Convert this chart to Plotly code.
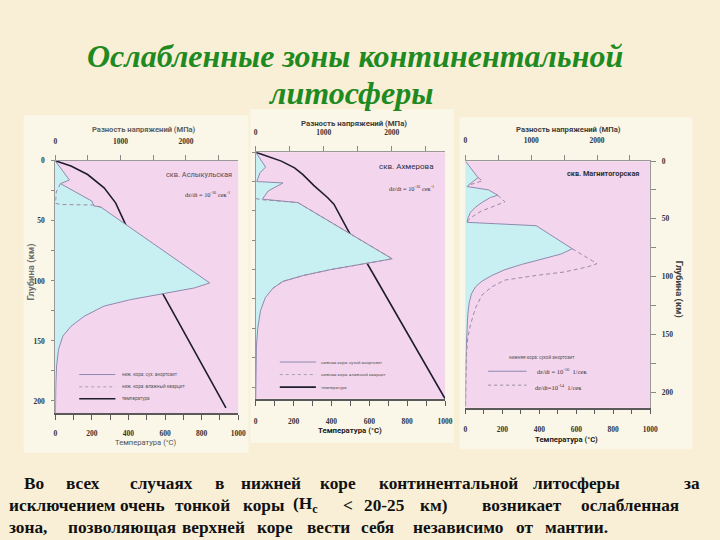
import plotly.graph_objects as go

W, H = 720, 540
def px(x): return x / W
def py(y): return 1 - y / H

# ---------------- DATA ----------------
# Panel 1: скв. Аслыкульская
p1_dry_depth  = [0, 16, 19, 33.5, 37.5, 38.5, 101.7, 105.8, 110.6, 115.6, 121, 129.4, 137.8, 146, 157, 171, 185, 204, 210]
p1_dry_stress = [0, 217, 80, 560, 590, 697, 2364, 2136, 1657, 1152, 747, 444, 242, 116, 50, 20, 10, 5, 3]
p1_wet_depth  = [19, 26, 35.5, 36.4, 36.8, 38.5]
p1_wet_stress = [80, 15, 3, 100, 571, 697]
p1_temp_depth = [0, 4.4, 11.4, 22.5, 35, 55.8, 101.7, 205.8]
p1_temp_T     = [0, 86, 177, 267, 330, 393, 555, 933]

# Panel 2: скв. Ахмерова
p2_dry_depth  = [0, 12.7, 17.5, 25, 26.2, 33, 40, 42.9, 90.8, 95, 100, 105, 110, 116, 124, 135, 150, 165, 185, 210]
p2_dry_stress = [0, 145, 63, 15, 401, 184, 97, 619, 2006, 1600, 1100, 700, 400, 250, 140, 70, 30, 10, 3, 0]
p2_wet_depth  = [39.5, 40.5, 42.9, 90.8, 95, 100, 105, 110, 116]
p2_wet_stress = [0, 97, 619, 2006, 1600, 1100, 700, 400, 250]
p2_temp_depth = [0, 7.6, 13.3, 18.9, 28.7, 38.6, 44.3, 65.4, 106.3, 210]
p2_temp_T     = [0, 135, 205, 248, 309, 379, 413, 483, 630, 1000]

# Panel 3: скв. Магнитогорская (10^-16 solid, 10^-14 dashed)
p3_dry_depth  = [0, 14.3, 21, 22, 24.9, 29.5, 31.5, 35.8, 40, 44.4, 49, 53, 55.9, 75.9,
                 80.5, 85, 89.5, 94, 99, 104, 109, 115, 123, 133, 148, 165, 185, 213]
p3_dry_stress = [0, 190, 40, 25, 350, 490, 380, 250, 150, 75, 40, 25, 1075, 1624,
                 1450, 1150, 850, 600, 400, 250, 150, 90, 55, 35, 20, 10, 4, 0]
p3_wet1_depth  = [14.3, 17, 21]
p3_wet1_stress = [190, 260, 40]
p3_wet2_depth  = [29.5, 35.2, 38.7, 43, 47.3, 50.7, 53]
p3_wet2_stress = [490, 600, 450, 250, 125, 50, 25]
p3_wet3_depth  = [75.9, 88.8, 91.7, 96, 98.8, 103, 108.8, 116, 127.5, 141.8, 153, 167.5, 190, 213]
p3_wet3_stress = [1624, 2000, 1850, 1500, 1100, 600, 400, 250, 150, 75, 35, 15, 6, 2]

# Tick labels
stress_ticks = [0, 500, 1000, 1500, 2000, 2500]
stress_text  = ["0", "", "1000", "", "2000", ""]
temp_ticks   = list(range(0, 1001, 100))
temp_text    = [str(v) if v % 200 == 0 else "" for v in temp_ticks]
depth_ticks  = list(range(0, 201, 25))
depth_text   = [str(v) if v % 50 == 0 else "" for v in depth_ticks]

# Texts
title_l1 = "Ослабленные зоны континентальной"
title_l2 = "литосферы"
stress_title = "Разность напряжений (МПа)"
temp_title = "Температура (°С)"
depth_title = "Глубина (км)"
well_names = ["скв. Аслыкульская", "скв. Ахмерова", "скв. Магнитогорская"]
rate_text = "dε/dt = 10<sup>-16</sup> сек<sup>-1</sup>"
legend1 = ["ниж. кора: сух. анортозит", "ниж. кора: влажный кварцит", "температура"]
legend2 = ["нижняя кора: сухой анортозит", "нижняя кора: влажный кварцит", "температура"]
legend3_title = "нижняя кора: сухой анортозит"
legend3 = ["dε/dt = 10<sup>-16</sup>  1/сек", "dε/dt=10<sup>-14</sup>  1/сек"]

para_words = [
    ["Во", "всех", "случаях", "в", "нижней", "коре", "континентальной", "литосферы", "за"],
    ["исключением", "очень", "тонкой", "коры", "(H<sub>с</sub>", "<", "20-25", "км)", "возникает", "ослабленная"],
    ["зона,", "позволяющая", "верхней", "коре", "вести", "себя", "независимо", "от", "мантии."],
]
# layout: left x of each word, line y centers
para_x = [
    [20, 63, 128, 214, 240, 320, 380, 536, 690],
    [5, 118, 173, 242, 293, 344, 365, 422, 485, 585],
    [5, 65, 180, 257, 307, 362, 415, 519, 549],
]
para_y = [483, 505, 527]

# ---------------- STYLE ----------------
PAPER = "#F8EFD6"
HALO = "#FBF7E8"
PINK = "#F4D5EE"
CYAN = "#C8F0F2"
DRY = "#8E8AAE"
WET = "#9A8AA2"
TEMP = "#1E1E30"
AX = "#5A5A5A"
GREEN = "#1F8A1F"
NARROW = "Roboto, Liberation Sans, sans-serif"
SERIF = "Liberation Serif, Times New Roman, serif"

fig = go.Figure()

def fill_trace(xs, ys, xa, ya):
    fig.add_trace(go.Scatter(x=xs, y=ys, xaxis=xa, yaxis=ya, mode="lines",
                             line=dict(color=DRY, width=1), fill="tozerox",
                             fillcolor=CYAN, showlegend=False, hoverinfo="skip"))

def dash_trace(xs, ys, xa, ya):
    fig.add_trace(go.Scatter(x=xs, y=ys, xaxis=xa, yaxis=ya, mode="lines",
                             line=dict(color=WET, width=1, dash="4px,3px"),
                             showlegend=False, hoverinfo="skip"))

def temp_trace(xs, ys, xa, ya):
    fig.add_trace(go.Scatter(x=xs, y=ys, xaxis=xa, yaxis=ya, mode="lines",
                             line=dict(color=TEMP, width=1.6),
                             showlegend=False, hoverinfo="skip"))

# Panel 1
fill_trace(p1_dry_stress, p1_dry_depth, "x2", "y")
dash_trace(p1_wet_stress, p1_wet_depth, "x2", "y")
temp_trace(p1_temp_T, p1_temp_depth, "x", "y")
# Panel 2
fill_trace(p2_dry_stress, p2_dry_depth, "x4", "y2")
dash_trace(p2_wet_stress, p2_wet_depth, "x4", "y2")
temp_trace(p2_temp_T, p2_temp_depth, "x3", "y2")
# Panel 3 (temperature axis has no curve; an empty trace registers it)
fig.add_trace(go.Scatter(x=[None], y=[None], xaxis="x5", yaxis="y3", mode="lines",
                         showlegend=False, hoverinfo="skip"))
fill_trace(p3_dry_stress, p3_dry_depth, "x6", "y3")
dash_trace(p3_wet1_stress, p3_wet1_depth, "x6", "y3")
dash_trace(p3_wet2_stress, p3_wet2_depth, "x6", "y3")
dash_trace(p3_wet3_stress, p3_wet3_depth, "x6", "y3")

tickfont = dict(family=SERIF, size=7.5, color="#333333", weight="bold")

def temp_axis(domain, anchor, standoff):
    return dict(domain=domain, anchor=anchor, range=[0, 1000], tickmode="array", tickvals=temp_ticks,
                ticktext=temp_text, ticks="outside", ticklen=5, tickwidth=1, tickcolor=AX,
                showline=True, linecolor=AX, linewidth=1.5, showgrid=False, zeroline=False,
                tickfont=tickfont, ticklabelstandoff=standoff, fixedrange=True)

def stress_axis(over, anchor, rng, standoff):
    return dict(overlaying=over, anchor=anchor, side="top", range=[0, rng], tickmode="array",
                tickvals=stress_ticks, ticktext=stress_text, ticks="outside", ticklen=5,
                tickwidth=1, tickcolor="#888888", showline=True, linecolor="#999999", linewidth=1,
                showgrid=False, zeroline=False, tickfont=tickfont,
                ticklabelstandoff=standoff, fixedrange=True)

def depth_axis(domain, rng, side, show_labels, ticklen, standoff, anchor):
    return dict(domain=domain, range=[rng, 0], side=side, anchor=anchor, tickmode="array",
                tickvals=depth_ticks, ticktext=depth_text, ticks="outside", ticklen=ticklen,
                tickwidth=1, tickcolor="#888888", showline=True, linecolor="#999999", linewidth=1,
                showgrid=False, zeroline=False, showticklabels=show_labels, tickfont=tickfont,
                ticklabelstandoff=standoff, fixedrange=True)

p1x = [px(54), px(239.5)]
p2x = [px(257.3), px(449.3)]
p3x = [px(470), px(657.3)]
p1y = [py(412), py(158)]
p2y = [py(397.7), py(149.3)]
p3y = [py(406.7), py(158.3)]

fig.update_layout(
    width=W, height=H, margin=dict(l=0, r=0, t=0, b=0),
    paper_bgcolor=PAPER, plot_bgcolor=PINK, showlegend=False,
    xaxis=temp_axis(p1x, "y", 7),
    xaxis2=stress_axis("x", "y", 2800, 8),
    yaxis=depth_axis(p1y, 210, "left", True, 3, 5, "x"),
    xaxis3=temp_axis(p2x, "y2", 9),
    xaxis4=stress_axis("x3", "y2", 2783, 8),
    yaxis2=depth_axis(p2y, 210, "left", False, 3, 5, "x3"),
    xaxis5=temp_axis(p3x, "y3", 9),
    xaxis6=stress_axis("x5", "y3", 2808, 9),
    yaxis3=depth_axis(p3y, 213.5, "right", True, 5, 4, "x5"),
)

shapes = []
# halos behind panel images
for (x0, y0, x1, y1) in [(22, 112, 250, 452), (252, 106, 458, 442), (464, 114, 700, 448)]:
    shapes.append(dict(type="rect", xref="paper", yref="paper", x0=px(x0), x1=px(x1),
                       y0=py(y1), y1=py(y0), fillcolor=HALO, line=dict(width=0), layer="below"))
# pink plotting areas (drawn over the halos)
for xr, yr in [("x", "y"), ("x3", "y2"), ("x5", "y3")]:
    shapes.append(dict(type="rect", xref=xr + " domain", yref=yr + " domain", x0=0, x1=1,
                       y0=0, y1=1, fillcolor=PINK, line=dict(width=0), layer="below"))

def leg_line(x0, x1, y, color, width, dash="solid"):
    shapes.append(dict(type="line", xref="paper", yref="paper", x0=px(x0), x1=px(x1),
                       y0=py(y), y1=py(y), line=dict(color=color, width=width, dash=dash)))

# legend keys
leg_line(78.3, 115, 373.3, DRY, 1)
leg_line(78.3, 115, 385.7, "#A8A0B0", 1, "3px,3px")
leg_line(78.3, 115, 397.7, TEMP, 1.6)
leg_line(281.7, 318.3, 360.7, DRY, 1)
leg_line(281.7, 318.3, 373.3, "#A8A0B0", 1, "3px,3px")
leg_line(281.7, 318.3, 386, TEMP, 1.6)
leg_line(493, 532, 370, DRY, 1)
leg_line(493, 532, 384, WET, 1, "3px,3px")
fig.update_layout(shapes=shapes)

ann = []
def A(text, x, y, size, color="#333333", family=SERIF, xanchor="center", angle=0, bold=False):
    ann.append(dict(text=text, x=px(x), y=py(y), xref="paper", yref="paper", showarrow=False,
                    xanchor=xanchor, yanchor="middle", textangle=angle,
                    font=dict(family=family, size=size, color=color,
                              weight="bold" if bold else "normal")))

# Title
A("<b><i>" + title_l1 + "</i></b>", 358, 52, 32, GREEN)
A("<b><i>" + title_l2 + "</i></b>", 353, 90, 32, GREEN)

# Panel 1 texts
A(stress_title, 144, 126.7, 7.6, "#606060", NARROW, bold=True)
A(well_names[0], 235, 171.7, 7.4, "#505060", NARROW, xanchor="right")
A(rate_text, 233, 191.7, 6.3, "#333333", SERIF, xanchor="right")
A(depth_title, 29, 270, 9.5, "#707070", NARROW, angle=-90, bold=True)
A(temp_title, 146, 441.7, 7.6, "#505050", NARROW)
for t, y in zip(legend1, [373.3, 385.7, 397.7]):
    A(t, 119.3, y, 4.6, "#555555", NARROW, xanchor="left")

# Panel 2 texts
A(stress_title, 356.7, 120, 7.8, "#404040", NARROW, bold=True)
A(well_names[1], 440, 163.3, 8.0, "#303040", NARROW, xanchor="right")
A(rate_text, 440, 185, 6.3, "#333333", SERIF, xanchor="right")
A(temp_title, 353, 429.3, 7.8, "#202020", NARROW, bold=True)
for t, y in zip(legend2, [360.7, 373.3, 386]):
    A(t, 321.7, y, 4.3, "#555555", NARROW, xanchor="left")

# Panel 3 texts
A(stress_title, 574.7, 126.7, 7.7, "#404040", NARROW, bold=True)
A(well_names[2], 648.3, 171, 7.3, "#303030", NARROW, xanchor="right", bold=True)
A(depth_title, 686.7, 287, 9.5, "#404040", NARROW, angle=90, bold=True)
A(temp_title, 572.5, 438.3, 7.7, "#202020", NARROW, bold=True)
A(legend3_title, 548, 355.7, 4.6, "#555555", NARROW)
A(legend3[0], 540, 370, 6.5, "#333333", SERIF, xanchor="left")
A(legend3[1], 538, 386, 6.5, "#333333", SERIF, xanchor="left")

# Paragraph
for words, xs, y in zip(para_words, para_x, para_y):
    for w, x in zip(words, xs):
        A("<b>" + w + "</b>", x, y, 17.3, "#111111", SERIF, xanchor="left")

fig.update_layout(annotations=ann)
fig.write_html("out.html")
